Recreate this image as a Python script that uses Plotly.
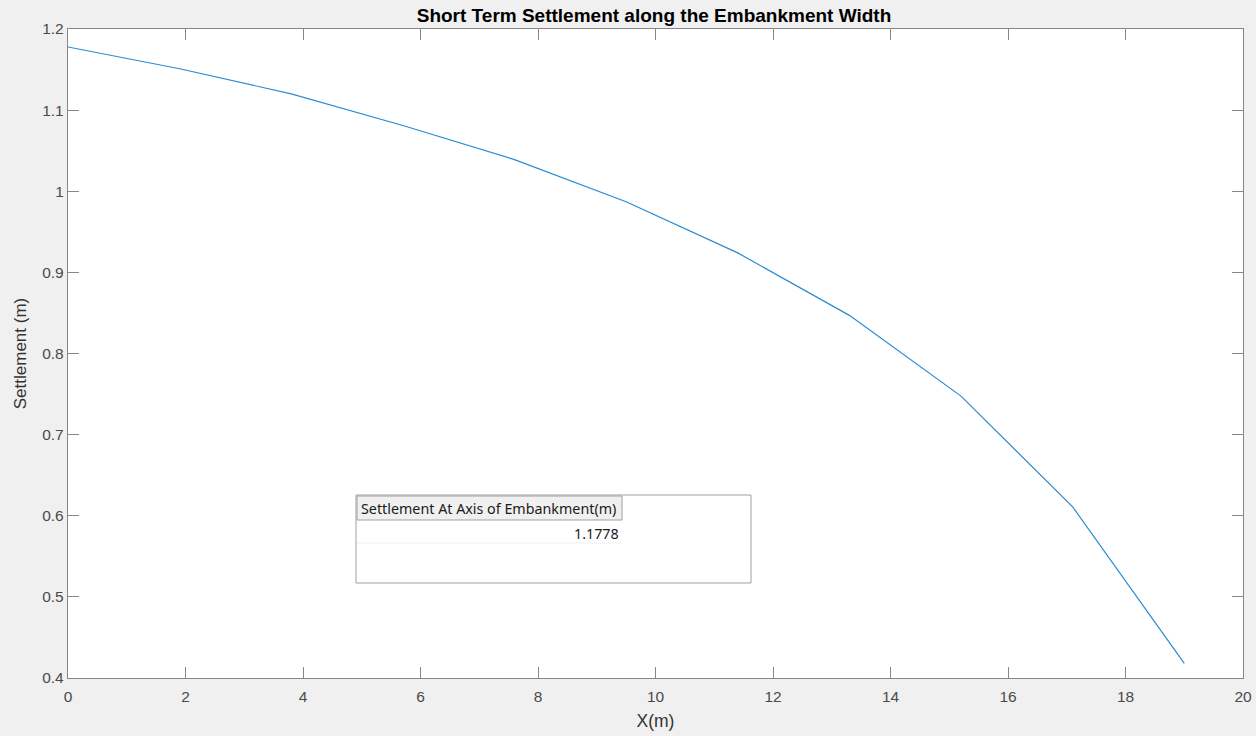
import plotly.graph_objects as go

# Data
x_m = [0, 1.9, 3.8, 5.7, 7.6, 9.5, 11.4, 13.3, 15.2, 17.1, 19.0]
settlement_m = [1.1778, 1.151, 1.120, 1.081, 1.039, 0.987, 0.924, 0.847, 0.7475, 0.611, 0.418]
x_ticks = [0, 2, 4, 6, 8, 10, 12, 14, 16, 18, 20]
y_ticks = [0.4, 0.5, 0.6, 0.7, 0.8, 0.9, 1.0, 1.1, 1.2]
y_tick_labels = ["0.4", "0.5", "0.6", "0.7", "0.8", "0.9", "1", "1.1", "1.2"]
table_header = "Settlement At Axis of Embankment(m)"
table_value = "1.1778"

W, H = 1256, 736
L, R, T, B = 68, 1243, 29, 678

def px(x):
    return (x - L) / (R - L)

def py(y):
    return (B - y) / (B - T)

fig = go.Figure()
fig.add_trace(go.Scatter(x=x_m, y=settlement_m, mode="lines",
                         line=dict(color="#2a8bd2", width=1.2), showlegend=False))

axis_common = dict(showline=True, linecolor="#868686", linewidth=1.3, mirror="ticks",
                   ticks="inside", ticklen=11, tickcolor="#868686", tickwidth=1.3, showgrid=False,
                   zeroline=False, automargin=False,
                   tickfont=dict(family="Liberation Sans", size=15.5, color="#4a4a4a"))

fig.update_xaxes(range=[0, 20], tickvals=x_ticks, ticklabelstandoff=4,
                 title=dict(text="X(m)", font=dict(family="Liberation Sans", size=17.5, color="#333333"), standoff=10),
                 **axis_common)
fig.update_yaxes(range=[0.4, 1.2], tickvals=y_ticks, ticktext=y_tick_labels,
                 title=dict(text="Settlement (m)", font=dict(family="Liberation Sans", size=17, color="#333333"), standoff=11),
                 **axis_common)

shapes = []
shapes.append(dict(type="rect", xref="paper", yref="paper", x0=px(356), x1=px(751), y0=py(583), y1=py(495),
                   line=dict(color="#a0a0a0", width=1), fillcolor="white", layer="above"))
shapes.append(dict(type="rect", xref="paper", yref="paper", x0=px(357), x1=px(622), y0=py(520), y1=py(496),
                   line=dict(color="#a0a0a0", width=1), fillcolor="#f0f0f0", layer="above"))
shapes.append(dict(type="line", xref="paper", yref="paper", x0=px(357), x1=px(622), y0=py(543), y1=py(543),
                   line=dict(color="#f0f0f0", width=1), layer="above"))

annotations = [
    dict(text=table_header, xref="paper", yref="paper", x=px(359), y=py(508), xanchor="left", yanchor="middle",
         showarrow=False, font=dict(family="Noto Sans", size=14.3, color="#1a1a1a")),
    dict(text=table_value, xref="paper", yref="paper", x=px(621), y=py(533), xanchor="right", yanchor="middle",
         showarrow=False, font=dict(family="Noto Sans", size=14.3, color="#1a1a1a")),
]

fig.update_layout(
    width=W, height=H, autosize=False,
    margin=dict(l=L, r=W - R, t=T, b=H - B, autoexpand=False),
    paper_bgcolor="#f0f0f0", plot_bgcolor="white",
    title=dict(text="<b>Short Term Settlement along the Embankment Width</b>", xref="container", x=654 / W,
               xanchor="center", y=1 - 15 / H, yanchor="middle",
               font=dict(family="Liberation Sans", size=19, color="#000000")),
    shapes=shapes, annotations=annotations,
)

fig.write_html("out.html", config={"displayModeBar": False},
               post_script="document.body.style.margin='0';document.body.style.background='#f0f0f0';")
